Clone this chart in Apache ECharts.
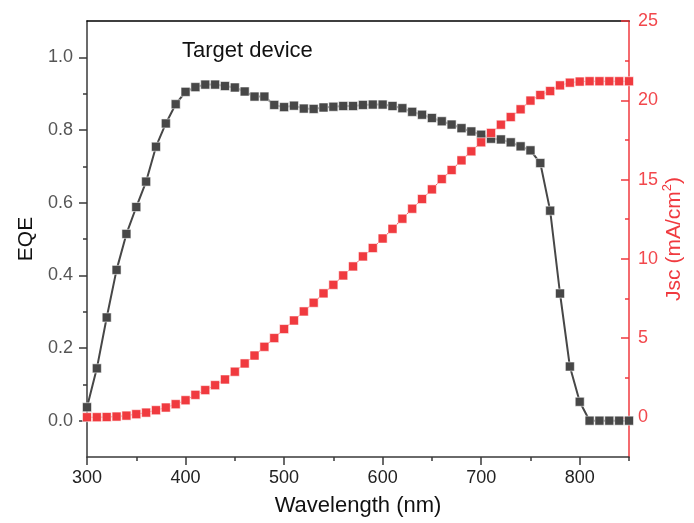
<!DOCTYPE html>
<html><head><meta charset="utf-8">
<script src="https://cdn.jsdelivr.net/npm/echarts@6/dist/echarts.min.js"></script>
<style>html,body{margin:0;padding:0;background:#fff}#c{width:694px;height:523px}</style>
</head><body><div id="c"></div>
<script>
const wavelength = [300,310,320,330,340,350,360,370,380,390,400,410,420,430,440,450,460,470,480,490,500,510,520,530,540,550,560,570,580,590,600,610,620,630,640,650,660,670,680,690,700,710,720,730,740,750,760,770,780,790,800,810,820,830,840,850];
const eqe = [0.037,0.144,0.284,0.415,0.514,0.588,0.658,0.754,0.818,0.871,0.905,0.918,0.925,0.925,0.921,0.917,0.906,0.892,0.892,0.869,0.863,0.867,0.859,0.858,0.862,0.864,0.866,0.866,0.869,0.870,0.870,0.866,0.860,0.850,0.842,0.833,0.824,0.815,0.805,0.796,0.787,0.776,0.774,0.766,0.755,0.744,0.709,0.578,0.350,0.149,0.052,0,0,0,0,0];
const jsc = [0.01,0.01,0.02,0.05,0.11,0.2,0.3,0.45,0.62,0.83,1.08,1.42,1.72,2.03,2.39,2.88,3.40,3.90,4.45,5.00,5.57,6.11,6.68,7.23,7.82,8.36,8.95,9.52,10.15,10.68,11.28,11.89,12.53,13.16,13.77,14.38,15.03,15.6,16.21,16.78,17.35,17.94,18.46,18.94,19.43,19.98,20.33,20.58,20.94,21.11,21.18,21.2,21.2,21.2,21.2,21.2];
const xTicks = [300,400,500,600,700,800];
const xMinor = [350,450,550,650,750,850];
const eqeTicks = [0,0.2,0.4,0.6,0.8,1.0];
const eqeMinor = [0.1,0.3,0.5,0.7,0.9];
const jscTicks = [0,5,10,15,20,25];
const jscMinor = [2.5,7.5,12.5,17.5,22.5];

const FONT = 'Liberation Sans, Arial, sans-serif';
const RED = '#f03a3f';
const LABELRED = '#f2474c';
const DARK = '#3a3a3a';
const chart = echarts.init(document.getElementById('c'));
const hidden = {show:false};
chart.setOption({
  animation:false,
  backgroundColor:'#fff',
  grid:{left:87,right:65,top:21,bottom:66,outerBoundsMode:'none',containLabel:false},
  graphic:[{type:'text',left:182,top:40,style:{text:'Target device',font:'22px '+FONT,fill:'#111'}}],
  xAxis:[
    {type:'value',min:300,max:850,position:'bottom',
     name:'Wavelength (nm)',nameLocation:'middle',nameGap:38,
     nameTextStyle:{fontFamily:FONT,fontSize:22,color:'#111'},
     axisLine:{onZero:false,lineStyle:{color:DARK,width:1.5}},
     axisTick:{customValues:xTicks,length:8,lineStyle:{color:DARK,width:1.5}},
     axisLabel:{customValues:xTicks,fontFamily:FONT,fontSize:18,color:'#222',margin:12},
     splitLine:hidden},
    {type:'value',min:300,max:850,position:'bottom',
     axisLine:{show:false,onZero:false},axisTick:{customValues:xMinor,length:4,lineStyle:{color:DARK,width:1.5}},
     axisLabel:hidden,splitLine:hidden},
    {type:'value',min:300,max:850,position:'top',
     axisLine:{onZero:false,lineStyle:{color:'#000',width:1.5}},axisTick:hidden,axisLabel:hidden,splitLine:hidden}
  ],
  yAxis:[
    {type:'value',min:-0.1,max:1.1,position:'left',
     name:'EQE',nameLocation:'middle',nameGap:50,nameRotate:90,
     nameTextStyle:{fontFamily:FONT,fontSize:21,color:'#111'},
     axisLine:{show:true,onZero:false,lineStyle:{color:DARK,width:1.5}},
     axisTick:{show:true,customValues:eqeTicks,length:8,lineStyle:{color:DARK,width:1.5}},
     axisLabel:{customValues:eqeTicks,formatter:v=>v.toFixed(1),fontFamily:FONT,fontSize:18,color:'#555',margin:14},
     splitLine:hidden},
    {type:'value',min:-0.1,max:1.1,position:'left',
     axisLine:{show:false,onZero:false},axisTick:{show:true,customValues:eqeMinor,length:4,lineStyle:{color:DARK,width:1.5}},
     axisLabel:hidden,splitLine:hidden},
    {type:'value',min:-2.5,max:25,position:'right',
     name:'{a|Jsc (mA/cm}{s|2}{a|)}',nameLocation:'middle',nameGap:32,nameRotate:90,nameMoveOverlap:false,
     nameTextStyle:{fontFamily:FONT,fontSize:21,color:RED,
       rich:{a:{fontFamily:FONT,fontSize:21,color:RED,lineHeight:24,verticalAlign:'bottom'},
             s:{fontFamily:FONT,fontSize:13,color:RED,lineHeight:24,verticalAlign:'top'}}},
     axisLine:{show:true,onZero:false,lineStyle:{color:RED,width:1.5}},
     axisTick:{show:true,inside:true,customValues:jscTicks,length:8,lineStyle:{color:RED,width:1.5}},
     axisLabel:{customValues:jscTicks,fontFamily:FONT,fontSize:18,color:LABELRED,margin:9},
     splitLine:hidden},
    {type:'value',min:-2.5,max:25,position:'right',
     axisLine:{show:false,onZero:false},axisTick:{show:true,inside:true,customValues:jscMinor,length:4,lineStyle:{color:RED,width:1.5}},
     axisLabel:hidden,splitLine:hidden}
  ],
  series:[
    {type:'line',xAxisIndex:0,yAxisIndex:0,data:wavelength.map((w,i)=>[w,eqe[i]]),
     symbol:'rect',symbolSize:9,color:'#474747',
     itemStyle:{color:'#474747',borderColor:'rgba(255,255,255,0.55)',borderWidth:1},
     lineStyle:{color:'#474747',width:2}},
    {type:'line',xAxisIndex:0,yAxisIndex:2,data:wavelength.map((w,i)=>[w,jsc[i]]),
     symbol:'rect',symbolSize:9,color:RED,
     itemStyle:{color:RED,borderColor:'rgba(255,255,255,0.55)',borderWidth:1},
     lineStyle:{color:RED,width:1}}
  ]
});
</script></body></html>
